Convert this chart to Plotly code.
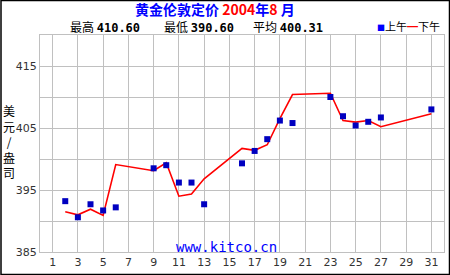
import plotly.graph_objects as go

days = [2, 3, 4, 5, 6, 9, 10, 11, 12, 13, 16, 17, 18, 19, 20, 23, 24, 25, 26, 27, 31]
am_price = [393.2, 390.6, 392.7, 391.7, 392.2, 398.5, 399.0, 396.2, 396.2, 392.7,
            399.3, 401.3, 403.2, 406.2, 405.8, 410.0, 406.9, 405.4, 406.0, 406.7, 408.0]
pm_price = [391.5, 391.0, 391.9, 390.9, 399.1, 398.1, 399.4, 394.0, 394.35, 396.8,
            401.7, 401.4, 402.3, 406.5, 410.4, 410.6, 406.2, 405.95, 406.2, 405.2, 407.3]
x_ticks = list(range(1, 32, 2))
y_ticks = [385, 395, 405, 415]
stats = [("最高", "410.60"), ("最低", "390.60"), ("平均", "400.31")]

W, H = 450, 275
L, R, T, B = 40, 6, 35, 23
pw, ph = W - L - R, H - T - B

def px(x):
    return (x - L) / pw

def py(y):
    return (H - B - y) / ph

CJK = "Noto Sans CJK SC"
fig = go.Figure()
fig.add_trace(go.Scatter(x=days, y=pm_price, mode="lines",
                         line=dict(color="#FF0000", width=1.6), showlegend=False))
fig.add_trace(go.Scatter(x=days, y=am_price, mode="markers",
                         marker=dict(symbol="square", size=6, color="#0000C0"), showlegend=False))

grid = "#C0C0C0"
fig.update_layout(
    width=W, height=H, margin=dict(l=L, r=R, t=T, b=B),
    paper_bgcolor="white", plot_bgcolor="white",
    font=dict(family="DejaVu Sans", size=11, color="#333333"),
    xaxis=dict(range=[0, 32], tickvals=x_ticks, showgrid=True, gridcolor=grid, gridwidth=1,
               zeroline=False, showline=True, linecolor=grid, mirror=True, ticks="",
               tickfont=dict(size=11, color="#333333")),
    yaxis=dict(range=[385, 420], tickvals=y_ticks, showgrid=True, gridcolor=grid, gridwidth=1,
               minor=dict(dtick=5, showgrid=True, gridcolor=grid, gridwidth=1),
               zeroline=False, showline=True, linecolor=grid, mirror=True, ticks="",
               tickfont=dict(size=11, color="#333333")),
)

ann = []
ann.append(dict(x=px(215), y=py(9), xref="paper", yref="paper", showarrow=False,
                xanchor="center", yanchor="middle",
                text="<b>黄金伦敦定价 <span style='color:#FF0000'>2004</span>年<span style='color:#FF0000'>8</span> 月</b>",
                font=dict(family=CJK, size=14, color="#0000FF")))
stat_x = [68, 162, 251]
for (lab, val), sx in zip(stats, stat_x):
    ann.append(dict(x=px(sx), y=py(27), xref="paper", yref="paper", showarrow=False,
                    xanchor="left", yanchor="middle",
                    text=f"{lab} <span style='font-family:DejaVu Sans Mono'><b>{val}</b></span>",
                    font=dict(family=CJK, size=12, color="#000000")))
ann.append(dict(x=px(375), y=py(26), xref="paper", yref="paper", showarrow=False,
                xanchor="left", yanchor="middle",
                text="<span style='color:#0000FF;font-size:8px'>■</span>上午<span style='color:#FF0000'>━</span>下午",
                font=dict(family=CJK, size=11, color="#000000")))
ann.append(dict(x=px(9), y=py(141), xref="paper", yref="paper", showarrow=False,
                xanchor="center", yanchor="middle",
                text="美<br>元<br>/<br>盎<br>司",
                font=dict(family=CJK, size=12, color="#000000")))
ann.append(dict(x=px(226), y=py(247), xref="paper", yref="paper", showarrow=False,
                xanchor="center", yanchor="middle",
                text="www.kitco.cn",
                font=dict(family="DejaVu Sans Mono", size=14, color="#0000FF")))
fig.update_layout(annotations=ann)
fig.add_shape(type="rect", xref="paper", yref="paper",
              x0=px(1), x1=px(449.5), y0=py(274.5), y1=py(0.5),
              line=dict(color="black", width=1.5), layer="above")

fig.write_html("out.html")
